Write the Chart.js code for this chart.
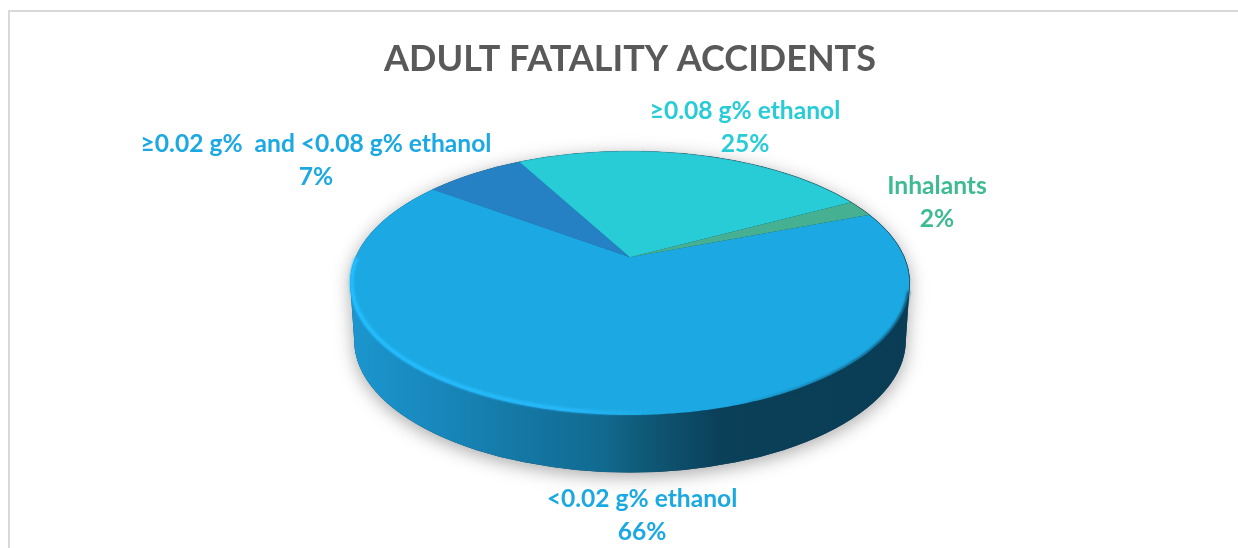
<!DOCTYPE html>
<html>
<head>
<meta charset="utf-8">
<style>
html,body{margin:0;padding:0;background:#fff;overflow:hidden}
#wrap{position:relative;width:1238px;height:548px}
#frame{position:absolute;left:8px;top:10px;right:0;bottom:0;border-top:2px solid #d9d9d9;border-left:2px solid #d9d9d9}
canvas{position:absolute;left:0;top:0}
</style>
<script src="https://cdn.jsdelivr.net/npm/chart.js@4/dist/chart.umd.js"></script>
</head>
<body>
<div id="wrap"><div id="frame"></div><canvas id="c" width="1238" height="548"></canvas></div>
<script>
const titleText = 'ADULT FATALITY ACCIDENTS';
const categories = ['<0.02 g% ethanol', '≥0.02 g%  and <0.08 g% ethanol', '≥0.08 g% ethanol', 'Inhalants'];
const values = [66, 7, 25, 2];
const sliceColors = ['#1CA9E3', '#2581C4', '#27CCD6', '#45B192'];
const labelColors = ['#1CA9E3', '#1CA9E3', '#27CCD6', '#3FBB94'];
const labelAnchors = [[642, 499], [316, 144], [745, 111], [937, 186]];

const ASPECT = 2.12;      // horizontal stretch of the tilted disc
const BOOST = -0.195;     // perspective shift of the centre point
const DEPTH = 0.435;      // wall height relative to radius

function project(el, a) {
  const u = Math.cos(a), v = Math.sin(a), d = 1 + BOOST * v;
  const X = u * Math.sqrt(1 - BOOST * BOOST) / d, Y = (v + BOOST) / d;
  return [el.x + el.outerRadius * ASPECT * X, el.y + el.outerRadius * Y];
}

// Arc elements are drawn as a perspective-tilted disc sector
Chart.ArcElement.prototype.draw = function (ctx) {
  const p = this.getProps(['x', 'y', 'startAngle', 'endAngle', 'outerRadius']);
  ctx.save();
  ctx.beginPath();
  ctx.moveTo(p.x, p.y + p.outerRadius * BOOST);
  const n = Math.max(4, Math.ceil((p.endAngle - p.startAngle) / 0.01));
  for (let i = 0; i <= n; i++) {
    const q = project(p, p.startAngle + (p.endAngle - p.startAngle) * i / n);
    ctx.lineTo(q[0], q[1]);
  }
  ctx.closePath();
  ctx.fillStyle = this.options.backgroundColor;
  ctx.fill();
  ctx.restore();
};

const bodyPlugin = {
  id: 'body3d',
  beforeDatasetsDraw(chart) {
    const el = chart.getDatasetMeta(0).data[0];
    const ctx = chart.ctx, x = el.x, y = el.y, r = el.outerRadius;
    const rx = r * ASPECT, dy = r * DEPTH, rx2 = rx - 4;
    ctx.save();
    const path = new Path2D();
    path.ellipse(x, y, rx, r, 0, 0, Math.PI * 2);
    path.moveTo(x - rx, y);
    path.lineTo(x + rx, y);
    path.lineTo(x + rx2, y + dy);
    path.lineTo(x - rx2, y + dy);
    path.closePath();
    path.moveTo(x + rx2, y + dy);
    path.ellipse(x, y + dy, rx2, r, 0, 0, Math.PI * 2);
    ctx.save();
    ctx.shadowColor = 'rgba(0,0,0,0.34)';
    ctx.shadowBlur = 18;
    ctx.shadowOffsetY = 4;
    ctx.fillStyle = '#0b4059';
    ctx.fill(path);
    ctx.restore();
    const g = ctx.createLinearGradient(x - rx, 0, x + rx, 0);
    g.addColorStop(0, '#1b96cf');
    g.addColorStop(0.16, '#1887bb');
    g.addColorStop(0.3, '#1478a5');
    g.addColorStop(0.45, '#116a90');
    g.addColorStop(0.52, '#0f5a79');
    g.addColorStop(0.66, '#0b4059');
    g.addColorStop(1, '#0a3d55');
    ctx.fillStyle = g;
    ctx.fill(path);
    ctx.restore();
  },
  afterDatasetsDraw(chart) {
    const el = chart.getDatasetMeta(0).data[0];
    const ctx = chart.ctx, x = el.x, y = el.y, r = el.outerRadius;
    const rx = r * ASPECT;
    ctx.save();
    // lit bevel, lower left
    const lit = ctx.createLinearGradient(x - rx, 0, x + 30, 0);
    lit.addColorStop(0, 'rgba(36,190,255,1)');
    lit.addColorStop(0.7, 'rgba(40,185,250,0.95)');
    lit.addColorStop(1, 'rgba(40,185,250,0)');
    ctx.filter = 'blur(1px)';
    ctx.strokeStyle = lit;
    ctx.lineWidth = 4;
    ctx.beginPath();
    ctx.ellipse(x, y - 0.5, rx - 1.5, r - 1.5, 0, Math.PI * 0.48, Math.PI * 1.06);
    ctx.stroke();
    // dark bevel, lower right
    const dark = ctx.createLinearGradient(x + 100, 0, x + rx, 0);
    dark.addColorStop(0, 'rgba(11,64,89,0)');
    dark.addColorStop(1, 'rgba(11,64,89,0.95)');
    ctx.strokeStyle = dark;
    ctx.lineWidth = 2.5;
    ctx.beginPath();
    ctx.ellipse(x, y, rx - 0.5, r - 0.5, 0, Math.PI * 0.02, Math.PI * 0.42);
    ctx.stroke();
    ctx.filter = 'none';
    // fine outline along the far edge
    const edge = ctx.createLinearGradient(x - rx, 0, x + rx, 0);
    edge.addColorStop(0, 'rgba(90,110,120,0.1)');
    edge.addColorStop(0.5, 'rgba(90,100,110,0.3)');
    edge.addColorStop(1, 'rgba(30,50,60,0.6)');
    ctx.strokeStyle = edge;
    ctx.lineWidth = 1;
    ctx.beginPath();
    ctx.ellipse(x, y, rx, r, 0, Math.PI * 1.06, Math.PI * 2.02);
    ctx.stroke();
    // data labels
    ctx.font = 'bold 24.6px Lato, sans-serif';
    ctx.textAlign = 'center';
    ctx.textBaseline = 'middle';
    categories.forEach((c, i) => {
      ctx.fillStyle = labelColors[i];
      ctx.fillText(c, labelAnchors[i][0], labelAnchors[i][1]);
      ctx.fillText(values[i] + '%', labelAnchors[i][0], labelAnchors[i][1] + 33);
    });
    ctx.restore();
  }
};

new Chart(document.getElementById('c'), {
  type: 'pie',
  data: {
    labels: categories,
    datasets: [{ data: values, backgroundColor: sliceColors, borderWidth: 0 }]
  },
  options: {
    responsive: false,
    animation: false,
    rotation: 69,
    layout: { padding: { left: 22, right: 0, top: 0, bottom: 133 } },
    plugins: {
      legend: { display: false },
      tooltip: { enabled: false },
      title: {
        display: true,
        text: titleText,
        color: '#595959',
        font: { family: 'Lato, sans-serif', size: 36, weight: 'bold', lineHeight: 1.2 },
        padding: { top: 38, bottom: 69.8 }
      }
    }
  },
  plugins: [bodyPlugin]
});
</script>
</body>
</html>
